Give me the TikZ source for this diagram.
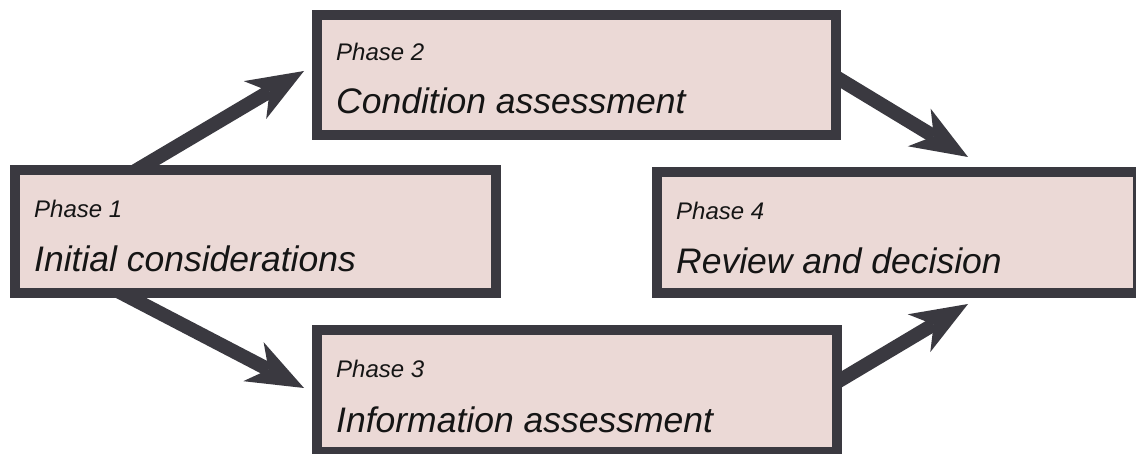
\documentclass[tikz,border=0pt]{standalone}
\usepackage{fontspec}
\setmainfont{Liberation Sans}
\usetikzlibrary{arrows.meta,backgrounds}
\definecolor{edge}{HTML}{3A3940}
\definecolor{boxfill}{HTML}{EBD9D6}
\definecolor{ink}{HTML}{151515}
\tikzset{
  phasebox/.style={draw=edge, fill=boxfill, line width=10pt, inner sep=0pt, outer sep=0pt, rectangle},
  phaselabel/.style={anchor=base west, inner sep=0pt, text=ink, font=\fontsize{24}{28}\selectfont\itshape},
  phasetitle/.style={anchor=base west, inner sep=0pt, text=ink, font=\fontsize{35.5}{40}\selectfont\itshape},
  flow/.style={draw=edge, line width=14pt, -{Stealth[length=57pt,width=44pt,inset=17pt,line width=0pt]}}
}
\begin{document}
\begin{tikzpicture}[x=1pt,y=-1pt]
\useasboundingbox (0,0) rectangle (1136,454);
\node[phasebox, minimum width=481pt, minimum height=123pt] (b1) at (255.5,231.5) {};
\node[phasebox, minimum width=519pt, minimum height=120pt] (b2) at (576.5,75) {};
\node[phasebox, minimum width=520pt, minimum height=122pt] (b3) at (577,391) {};
\node[phasebox, minimum width=481pt, minimum height=121pt] (b4) at (897.5,232.5) {};
\node[phaselabel] (l1) at ([xshift=19pt,yshift=-48pt]b1.north west) {Phase 1};
\node[phasetitle] (t1) at ([xshift=19pt,yshift=-102pt]b1.north west) {Initial considerations};
\node[phaselabel] (l2) at ([xshift=19pt,yshift=-46pt]b2.north west) {Phase 2};
\node[phasetitle] (t2) at ([xshift=19pt,yshift=-99pt]b2.north west) {Condition assessment};
\node[phaselabel] (l3) at ([xshift=19pt,yshift=-48pt]b3.north west) {Phase 3};
\node[phasetitle] (t3) at ([xshift=19pt,yshift=-102pt]b3.north west) {Information assessment};
\node[phaselabel] (l4) at ([xshift=19pt,yshift=-48pt]b4.north west) {Phase 4};
\node[phasetitle] (t4) at ([xshift=19pt,yshift=-102pt]b4.north west) {Review and decision};
\begin{pgfonlayer}{background}
\draw[flow] ([xshift=105pt,yshift=-10pt]b1.north west) -- ([xshift=-13pt,yshift=4pt]b2.west);
\draw[flow] ([xshift=95pt,yshift=6pt]b1.south west) -- ([xshift=-13pt,yshift=3pt]b3.west);
\draw[flow] ([xshift=-15pt,yshift=7pt]b2.east) -- ([xshift=70.5pt,yshift=15pt]b4.north);
\draw[flow] ([xshift=-15pt]b3.east) -- ([xshift=70.5pt,yshift=-11pt]b4.south);
\end{pgfonlayer}
\end{tikzpicture}
\end{document}
